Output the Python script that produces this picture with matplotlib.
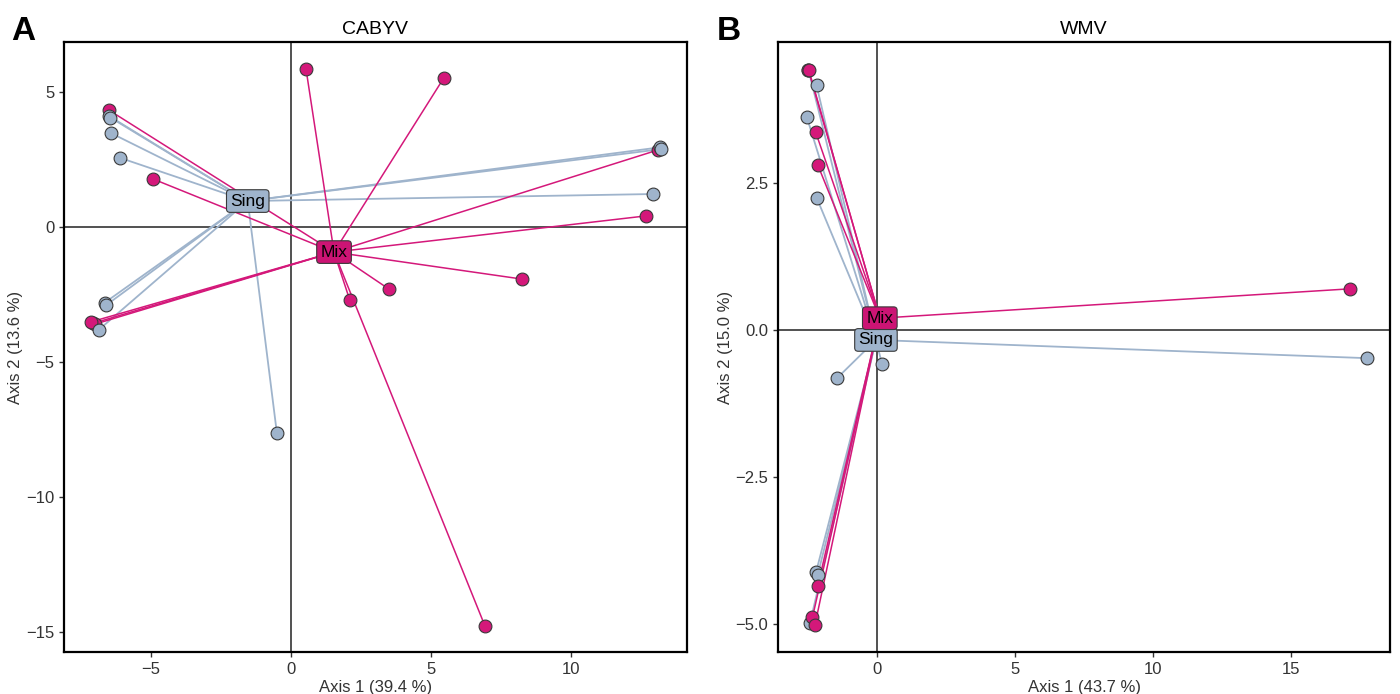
import matplotlib
matplotlib.use('Agg')
import matplotlib.pyplot as plt

plt.rcParams['font.family'] = ['Liberation Sans', 'DejaVu Sans']

# CABYV (panel A)
cabyv_mix_x = [0.54, 5.46, -6.5, -4.93, 12.68, 8.25, 3.5, 2.1, 6.93, 13.1, -7.07, -7.0, -7.15]
cabyv_mix_y = [5.85, 5.52, 4.33, 1.78, 0.41, -1.93, -2.3, -2.7, -14.78, 2.85, -3.57, -3.6, -3.52]
cabyv_sing_x = [-6.48, -6.44, -6.43, -6.1, 13.18, 13.2, 12.93, -6.64, -6.6, -6.86, -0.5]
cabyv_sing_y = [4.1, 4.05, 3.48, 2.56, 2.95, 2.88, 1.22, -2.8, -2.9, -3.81, -7.63]
cabyv_mix_centre = (1.54, -0.93)
cabyv_sing_centre = (-1.54, 0.96)

# WMV (panel B)
wmv_mix_x = [-2.49, -2.47, -2.22, -2.15, 17.14, -2.15, -2.34, -2.25]
wmv_mix_y = [4.43, 4.42, 3.36, 2.81, 0.70, -4.36, -4.89, -5.02]
wmv_sing_x = [-2.49, -2.19, -2.55, -2.18, -1.45, 0.18, 17.75, -2.21, -2.15, -2.43]
wmv_sing_y = [4.43, 4.16, 3.63, 2.24, -0.82, -0.58, -0.48, -4.12, -4.17, -4.99]
wmv_mix_centre = (0.10, 0.20)
wmv_sing_centre = (-0.04, -0.17)

mix_col = '#d4187a'
sing_col = '#9fb4cc'
edge_col = '#3a3a3a'


def panel(ax, mx, my, sx, sy, mc, sc, sing_on_top):
    for x, y in zip(sx, sy):
        ax.plot([sc[0], x], [sc[1], y], color=sing_col, lw=1.3, zorder=2)
    for x, y in zip(mx, my):
        ax.plot([mc[0], x], [mc[1], y], color=mix_col, lw=1.1, zorder=2)
    zs, zm = (4, 3) if sing_on_top else (3, 4)
    ax.scatter(sx, sy, s=85, color=sing_col, edgecolor=edge_col, lw=0.8, zorder=zs)
    ax.scatter(mx, my, s=85, color=mix_col, edgecolor=edge_col, lw=0.8, zorder=zm)
    ax.axhline(0, color='#222222', lw=1.1, zorder=1)
    ax.axvline(0, color='#222222', lw=1.1, zorder=1)
    for (cx, cy), txt, col in [(sc, 'Sing', sing_col), (mc, 'Mix', '#cc1474')]:
        ax.text(cx, cy, txt, ha='center', va='center', fontsize=12.5, zorder=6,
                bbox=dict(boxstyle='round,pad=0.22,rounding_size=0.2',
                          fc=col, ec=edge_col, lw=0.8))
    for sp in ax.spines.values():
        sp.set_linewidth(1.6)
    ax.tick_params(labelsize=12, length=3.5, width=1, colors='#333333', labelcolor='#333333')


fig = plt.figure(figsize=(14, 6.94), dpi=100)
ax1 = fig.add_axes([0.0457, 0.0605, 0.445, 0.879])
ax2 = fig.add_axes([0.5557, 0.0605, 0.4372, 0.879])

panel(ax1, cabyv_mix_x, cabyv_mix_y, cabyv_sing_x, cabyv_sing_y,
      cabyv_mix_centre, cabyv_sing_centre, True)
ax1.set_xlim(-8.1, 14.14)
ax1.set_ylim(-15.74, 6.85)
ax1.set_xticks([-5, 0, 5, 10])
ax1.set_yticks([-15, -10, -5, 0, 5])
ax1.set_title('CABYV', fontsize=14, pad=6)
ax1.set_xlabel('Axis 1 (39.4 %)', fontsize=12, labelpad=2, color='#333333')
ax1.set_ylabel('Axis 2 (13.6 %)', fontsize=12, labelpad=2, color='#333333')

panel(ax2, wmv_mix_x, wmv_mix_y, wmv_sing_x, wmv_sing_y,
      wmv_mix_centre, wmv_sing_centre, False)
ax2.set_xlim(-3.59, 18.59)
ax2.set_ylim(-5.48, 4.9)
ax2.set_xticks([0, 5, 10, 15])
ax2.set_yticks([-5.0, -2.5, 0.0, 2.5])
ax2.set_yticklabels(['\u22125.0', '\u22122.5', '0.0', '2.5'])
ax2.set_title('WMV', fontsize=14, pad=6)
ax2.set_xlabel('Axis 1 (43.7 %)', fontsize=12, labelpad=2, color='#333333')
ax2.set_ylabel('Axis 2 (15.0 %)', fontsize=12, labelpad=2, color='#333333')

fig.text(0.008, 0.955, 'A', fontsize=24, fontweight='bold', va='center')
fig.text(0.512, 0.955, 'B', fontsize=24, fontweight='bold', va='center')

fig.savefig('out.png', dpi=100)
